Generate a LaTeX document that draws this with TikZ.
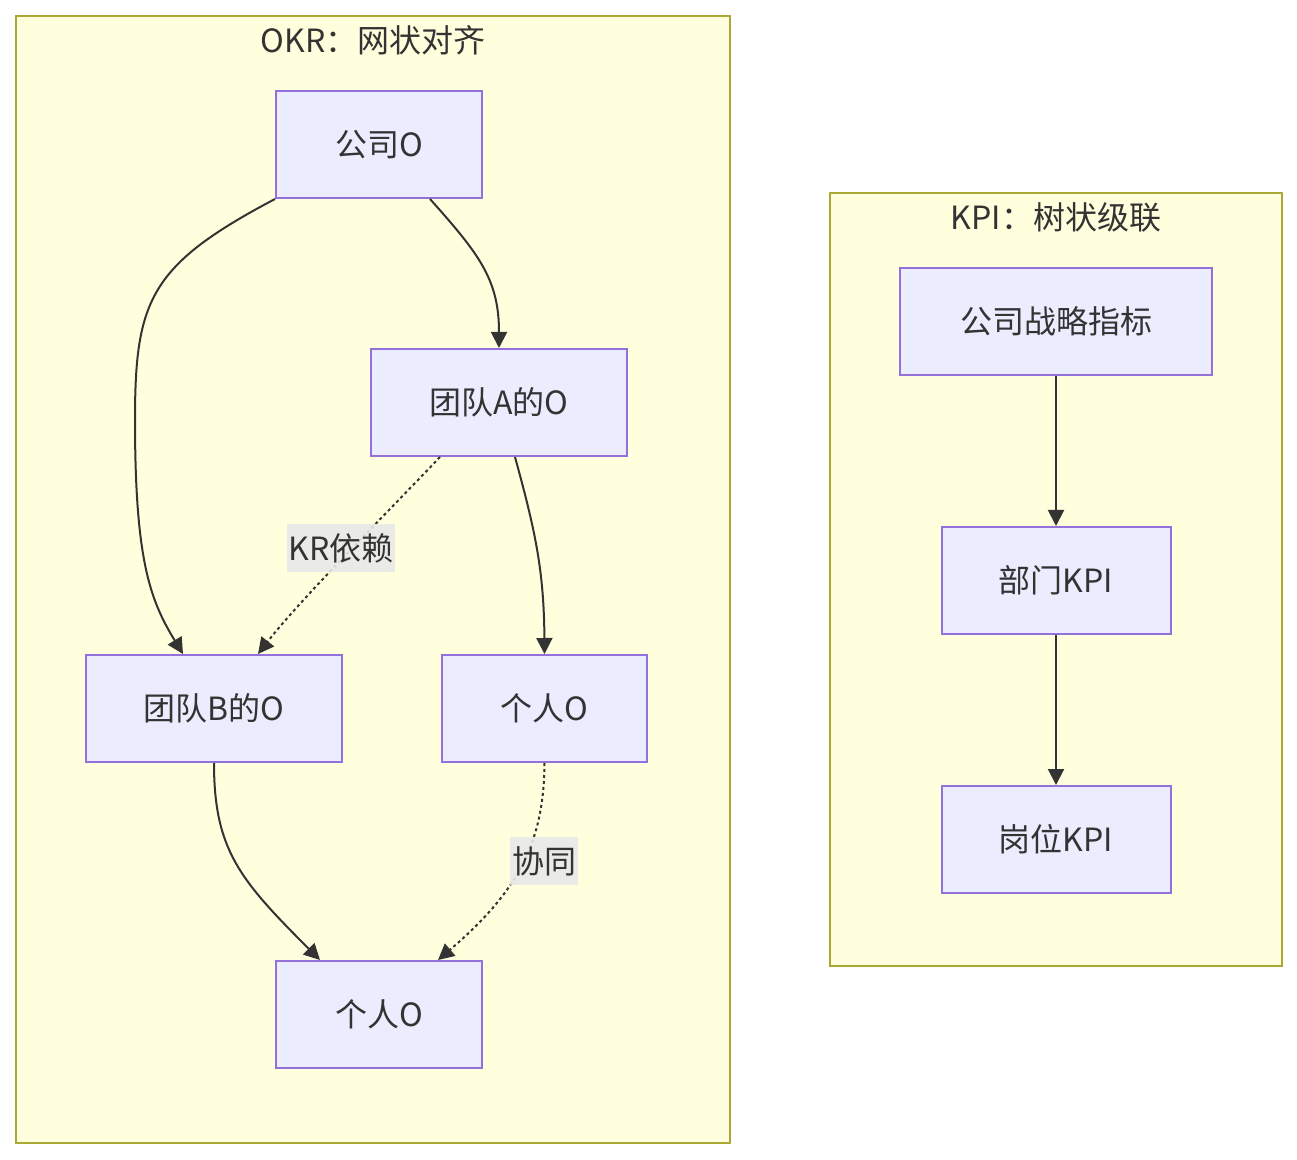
\documentclass[tikz,border=0pt]{standalone}
\usepackage{fontspec}
\setmainfont{Noto Sans CJK SC}
\usetikzlibrary{arrows.meta,positioning}
\definecolor{grpfill}{HTML}{FFFFDE}
\definecolor{grpline}{HTML}{AAAA33}
\definecolor{boxfill}{HTML}{ECECFF}
\definecolor{boxline}{HTML}{9370DB}
\definecolor{ink}{HTML}{333333}
\definecolor{lblfill}{HTML}{E8E8E8}
\begin{document}
\begin{tikzpicture}[x=0.5pt,y=-0.5pt,>={Triangle[length=8pt,width=8pt]},font=\fontsize{16pt}{19pt}\selectfont,text=ink,
grp/.style={draw=grpline,fill=grpfill,line width=1pt},
box/.style={draw=boxline,fill=boxfill,line width=1pt,minimum height=53.5pt,inner sep=0pt},
arr/.style={->,draw=ink,line width=1pt},
dot/.style={arr,dash pattern=on 1.5pt off 1.5pt},
lbl/.style={fill=lblfill,fill opacity=.9,text opacity=1,inner sep=1pt,minimum height=24pt}]
\fill[white] (0,0) rectangle (1297,1160);
\useasboundingbox (0,0) rectangle (1297,1160);
\draw[grp] (16,16) rectangle (730,1143);
\draw[grp] (830,193) rectangle (1282,966);
\node (okr) at (373,40) {OKR：网状对齐};
\node (kpi) at (1056,217) {KPI：树状级联};
\node[box,minimum width=103pt] (co) at (379,144.5) {公司O};
\node[box,minimum width=128pt] (ta) at (499,402.5) {团队A的O};
\node[box,minimum width=128pt] (tb) at (214,708.5) {团队B的O};
\node[box,minimum width=102.5pt] (pr) at (544.5,708.5) {个人O};
\node[box,minimum width=103pt] (pb) at (379,1014.5) {个人O};
\node[box,minimum width=156pt] (ks) at (1056,321.5) {公司战略指标};
\node[box,minimum width=114.5pt,below=75pt of ks] (kd) {部门KPI};
\node[box,minimum width=114.5pt,below=75pt of kd] (kp) {岗位KPI};
\draw[arr] (co.south west) .. controls (150,265) and (135,300) .. (135,420) .. controls (135,560) and (150,600) .. ([xshift=-15.5pt]tb.north);
\draw[arr] ([xshift=25.5pt]co.south) .. controls (480,255) and (499,280) .. (ta.north);
\draw[dot] ([xshift=-29.5pt]ta.south) .. controls (380,520) and (300,600) .. ([xshift=22pt]tb.north);
\draw[arr] ([xshift=8pt]ta.south) .. controls (535,530) and (544,570) .. (pr.north);
\draw[arr] (tb.south) .. controls (214,850) and (240,880) .. ([xshift=-29.5pt]pb.north);
\draw[dot] (pr.south) .. controls (544,840) and (520,890) .. ([xshift=29.5pt]pb.north);
\node[lbl] (kr) at (341,548) {KR依赖};
\node[lbl] (xt) at (544,861) {协同};
\draw[arr] (ks) -- (kd);
\draw[arr] (kd) -- (kp);
\end{tikzpicture}
\end{document}
